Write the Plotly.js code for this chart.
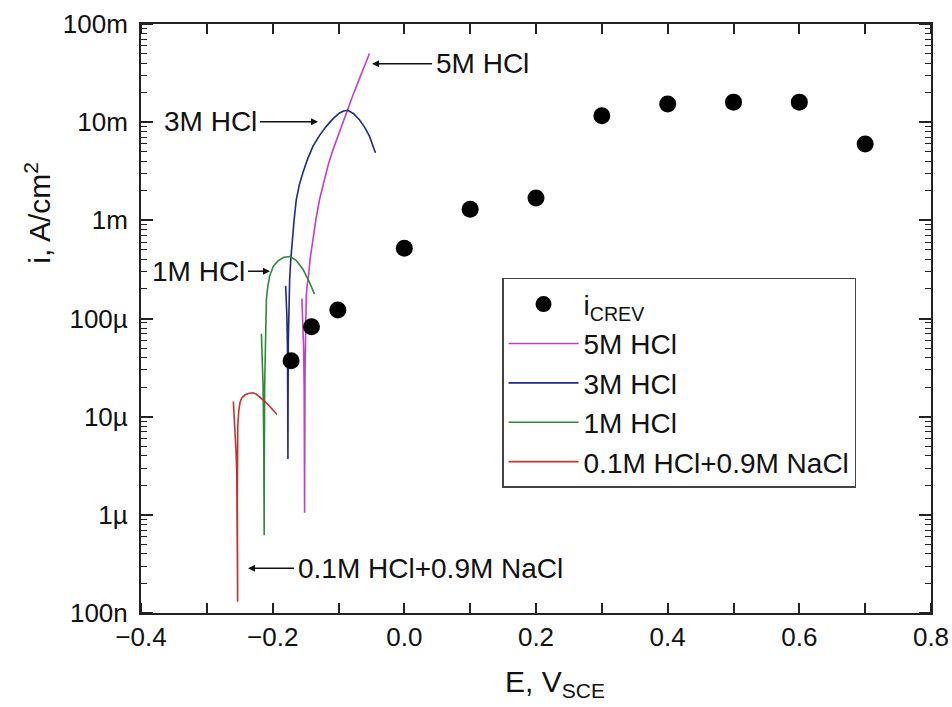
<!DOCTYPE html>
<html>
<head>
<meta charset="utf-8">
<script src="https://cdn.plot.ly/plotly-3.0.1.min.js"></script>
<style>html,body{margin:0;padding:0;background:#fff;}#chart{width:952px;height:707px;}</style>
</head>
<body>
<div id="chart"></div>
<script>
// i_CREV points
var E_crev = [-0.172, -0.141, -0.101, 0.0, 0.1, 0.2, 0.3, 0.4, 0.5, 0.6, 0.7];
var i_crev = [3.72e-5, 8.25e-5, 1.22e-4, 5.2e-4, 1.30e-3, 1.69e-3, 1.16e-2, 1.53e-2, 1.60e-2, 1.60e-2, 5.98e-3];

// 5M HCl
var E_5M = [-0.1556, -0.1550, -0.1540, -0.1530, -0.1522, -0.1516, -0.1515, -0.1512, -0.1508, -0.1502, -0.1490, -0.1475, -0.1460, -0.1430, -0.1389, -0.1340, -0.1288, -0.1230, -0.1162, -0.1090, -0.1010, -0.0935, -0.0859, -0.0785, -0.0708, -0.0620, -0.0530];
var i_5M = [1.6e-4, 1.3e-4, 9e-5, 5e-5, 2e-5, 4e-6, 1.05e-6, 5e-6, 3e-5, 1.0e-4, 1.7e-4, 2.2e-4, 2.55e-4, 4.1e-4, 6.4e-4, 1.05e-3, 1.63e-3, 2.4e-3, 3.56e-3, 5.1e-3, 7.2e-3, 1.0e-2, 1.34e-2, 1.85e-2, 2.5e-2, 3.6e-2, 5.0e-2];

// 3M HCl
var E_3M = [-0.1803, -0.1795, -0.1785, -0.1775, -0.1770, -0.1768, -0.1766, -0.1762, -0.1755, -0.1742, -0.1725, -0.1702, -0.1675, -0.1641, -0.1595, -0.1541, -0.1470, -0.1389, -0.1290, -0.1186, -0.1085, -0.0985, -0.0920, -0.0859, -0.0770, -0.0682, -0.0600, -0.0530, -0.0439];
var i_3M = [2.15e-4, 1.7e-4, 1.1e-4, 5e-5, 1.5e-5, 3.7e-6, 1.5e-5, 6e-5, 1.5e-4, 2.5e-4, 4e-4, 6.4e-4, 1.0e-3, 1.63e-3, 2.3e-3, 3.05e-3, 4.2e-3, 5.67e-3, 7.3e-3, 9.06e-3, 1.08e-2, 1.24e-2, 1.30e-2, 1.32e-2, 1.22e-2, 1.06e-2, 8.8e-3, 7.2e-3, 4.87e-3];

// 1M HCl
var E_1M = [-0.2171, -0.2165, -0.2155, -0.2145, -0.2135, -0.2130, -0.2129, -0.2127, -0.2122, -0.2112, -0.2095, -0.2075, -0.2045, -0.1990, -0.1920, -0.1830, -0.1732, -0.1640, -0.1540, -0.1450, -0.1364];
var i_1M = [7e-5, 5.5e-5, 4e-5, 2e-5, 5e-6, 1.5e-6, 6.2e-7, 3e-6, 2e-5, 6e-5, 1.58e-4, 2.1e-4, 2.72e-4, 3.4e-4, 3.86e-4, 4.2e-4, 4.28e-4, 3.9e-4, 3.18e-4, 2.4e-4, 1.77e-4];

// 0.1M HCl + 0.9M NaCl
var E_01M = [-0.2597, -0.2590, -0.2580, -0.2567, -0.2555, -0.2545, -0.2538, -0.2533, -0.2532, -0.2534, -0.2537, -0.2538, -0.2530, -0.2515, -0.2495, -0.2470, -0.2445, -0.2420, -0.2370, -0.2303, -0.2250, -0.2190, -0.2120, -0.2040, -0.1935];
var i_01M = [1.43e-5, 1.2e-5, 9e-6, 6e-6, 4.2e-6, 2.5e-6, 9e-7, 3e-7, 1.3e-7, 4e-7, 1.5e-6, 4.5e-6, 8e-6, 1.15e-5, 1.4e-5, 1.55e-5, 1.62e-5, 1.67e-5, 1.72e-5, 1.75e-5, 1.7e-5, 1.58e-5, 1.43e-5, 1.26e-5, 1.05e-5];

// tick labels
var yTickVals = [1e-7, 1e-6, 1e-5, 1e-4, 1e-3, 1e-2, 1e-1];
var yTickText = ["100n", "1\u00b5", "10\u00b5", "100\u00b5", "1m", "10m", "100m"];

var FONT = "Liberation Sans, Arial, Helvetica, sans-serif";
var LW = 1.6;
var AX = '#222';

var traces = [
  {x: E_5M, y: i_5M, mode: 'lines', name: '5M HCl', legendgroup: 'b', legendrank: 2,
   line: {color: '#c43fc8', width: LW}},
  {x: E_3M, y: i_3M, mode: 'lines', name: '3M HCl', legendgroup: 'c', legendrank: 3,
   line: {color: '#1f2a80', width: LW}},
  {x: E_1M, y: i_1M, mode: 'lines', name: '1M HCl', legendgroup: 'd', legendrank: 4,
   line: {color: '#2a8a36', width: LW}},
  {x: E_01M, y: i_01M, mode: 'lines', name: '0.1M HCl+0.9M NaCl', legendgroup: 'e', legendrank: 5,
   line: {color: '#c0342c', width: LW}},
  {x: E_crev, y: i_crev, yaxis: 'y2', mode: 'markers', name: 'i<sub>CREV</sub>', legendgroup: 'a', legendrank: 1,
   marker: {color: '#000', size: 17, symbol: 'circle'}}
];

var annFont = {family: FONT, size: 28, color: '#111'};
function arrowAnn(x, y, ax, text) {
  return {x: x, y: Math.log10(y), xref: 'x', yref: 'y', ax: ax, ay: 0, axref: 'pixel', ayref: 'pixel',
    text: text, showarrow: true, arrowhead: 2, arrowsize: 1, arrowwidth: 1.4, arrowcolor: '#111',
    font: annFont, standoff: 0, startstandoff: 2};
}

var tickFont = {family: FONT, size: 26, color: '#111'};

var layout = {
  width: 952, height: 707,
  margin: {l: 141, r: 21, t: 24, b: 94},
  paper_bgcolor: '#fff', plot_bgcolor: '#fff',
  font: {family: FONT, size: 26, color: '#111'},
  showlegend: true,
  legend: {x: 0.457, y: 0.569, xanchor: 'left', yanchor: 'top',
    bordercolor: '#444', borderwidth: 1.5, bgcolor: '#fff',
    font: {family: FONT, size: 28, color: '#111'},
    traceorder: 'grouped', tracegroupgap: 0, itemwidth: 70},
  xaxis: {range: [-0.4, 0.8], tickmode: 'linear', tick0: -0.4, dtick: 0.2, tickformat: '.1f',
    ticks: 'outside', ticklen: 0, tickcolor: AX,
    minor: {tick0: -0.4, dtick: 0.1, ticks: 'inside', ticklen: 10, tickwidth: 1.6, tickcolor: AX, showgrid: false},
    showline: true, linecolor: AX, linewidth: 2, mirror: 'allticks',
    showgrid: false, zeroline: false, tickfont: tickFont},
  yaxis: {type: 'log', range: [-7, -1], tickmode: 'array', tickvals: yTickVals, ticktext: yTickText,
    ticks: 'outside', ticklen: 0, tickcolor: AX,
    minor: {dtick: 'D1', ticks: 'inside', ticklen: 6, tickwidth: 1.3, tickcolor: AX, showgrid: false},
    showline: true, linecolor: AX, linewidth: 2, mirror: 'allticks',
    showgrid: false, zeroline: false, tickfont: tickFont, ticklabelstandoff: 6},
  yaxis2: {type: 'log', range: [-7, -1], overlaying: 'y', side: 'left', anchor: 'x',
    tickmode: 'array', tickvals: yTickVals, showticklabels: false,
    ticks: 'outside', ticklen: 0,
    minor: {dtick: 1, ticks: 'inside', ticklen: 12, tickwidth: 1.6, tickcolor: AX, showgrid: false},
    showline: false, mirror: 'allticks', showgrid: false, zeroline: false},
  annotations: [
    arrowAnn(-0.049, 0.0393, 110, '5M HCl'),
    arrowAnn(-0.131, 0.0101, -108, '3M HCl'),
    arrowAnn(-0.204, 3.03e-4, -72, '1M HCl'),
    arrowAnn(-0.2374, 2.86e-7, 182, '0.1M HCl+0.9M NaCl'),
    {xref: 'paper', yref: 'paper', x: 0.524, y: -0.085, text: 'E, V<sub>SCE</sub>',
     showarrow: false, font: {family: FONT, size: 30, color: '#111'}, xanchor: 'center', yanchor: 'top'},
    {xref: 'paper', yref: 'paper', x: -0.13, y: 0.68, text: 'i, A/cm<sup>2</sup>', textangle: -90,
     showarrow: false, font: {family: FONT, size: 30, color: '#111'}, xanchor: 'center', yanchor: 'middle'}
  ]
};

Plotly.newPlot('chart', traces, layout, {displayModeBar: false});
</script>
</body>
</html>
